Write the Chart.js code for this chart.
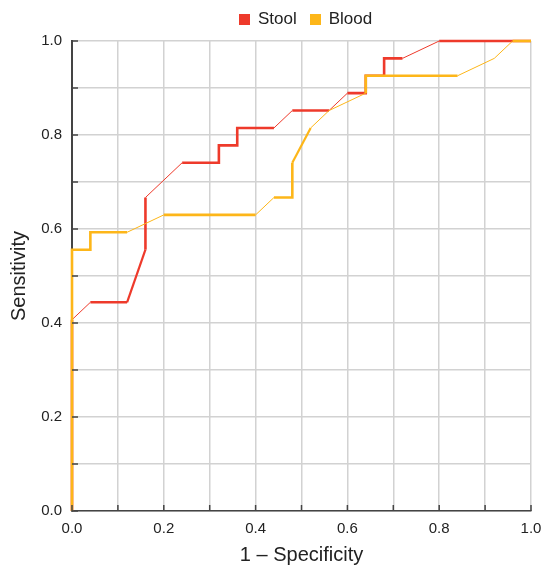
<!DOCTYPE html>
<html>
<head>
<meta charset="utf-8">
<script src="https://cdn.jsdelivr.net/npm/chart.js@4/dist/chart.umd.min.js"></script>
<style>
  html, body { margin: 0; padding: 0; background: #fff; }
  #wrap { position: relative; width: 544px; height: 567px; }
  #legend { position: absolute; top: 9px; left: 239px; height: 20px; display: flex; align-items: center;
            font-family: "Liberation Sans", Arial, sans-serif; font-size: 17px; color: #222; }
  .item { display: flex; align-items: center; margin-right: 13px; }
  .sw { width: 11px; height: 11px; margin-right: 8px; }
</style>
</head>
<body>
<div id="wrap">
  <canvas id="c" width="544" height="567"></canvas>
  <div id="legend"></div>
</div>
<script>
// ---- data ----
const seriesNames = ['Stool', 'Blood'];
const seriesColors = ['#EE3A2B', '#FDB619'];

const stoolFpr = [0, 0, 0.04, 0.12, 0.16, 0.16, 0.24, 0.32, 0.32, 0.36, 0.36, 0.44, 0.48, 0.56, 0.60, 0.64, 0.64, 0.68, 0.68, 0.72, 0.80, 1.0];
const stoolTpr = [0, 0.407, 0.444, 0.444, 0.556, 0.667, 0.741, 0.741, 0.778, 0.778, 0.815, 0.815, 0.852, 0.852, 0.889, 0.889, 0.926, 0.926, 0.963, 0.963, 1.0, 1.0];

const bloodFpr = [0, 0, 0.04, 0.04, 0.12, 0.20, 0.40, 0.44, 0.48, 0.48, 0.52, 0.56, 0.64, 0.64, 0.84, 0.92, 0.96, 1.0];
const bloodTpr = [0, 0.556, 0.556, 0.593, 0.593, 0.630, 0.630, 0.667, 0.667, 0.741, 0.815, 0.852, 0.889, 0.926, 0.926, 0.963, 1.0, 1.0];

const tickValues = [0, 0.1, 0.2, 0.3, 0.4, 0.5, 0.6, 0.7, 0.8, 0.9, 1.0];
const tickLabels = ['0.0', '', '0.2', '', '0.4', '', '0.6', '', '0.8', '', '1.0'];

const xTitle = '1 \u2013 Specificity';
const yTitle = 'Sensitivity';

// ---- build ----
function pts(xs, ys) { return xs.map((x, i) => ({ x: x, y: ys[i] })); }

function segWidth(ctx) {
  const dx = Math.abs(ctx.p1.x - ctx.p0.x);
  const dy = Math.abs(ctx.p1.y - ctx.p0.y);
  if (dx < 0.5 || dy < 0.5) return 2.6;
  if (dy > 1.5 * dx) return 2.2;
  return 1;
}

const datasets = [
  { label: seriesNames[0], data: pts(stoolFpr, stoolTpr), borderColor: seriesColors[0], backgroundColor: seriesColors[0], order: 1 },
  { label: seriesNames[1], data: pts(bloodFpr, bloodTpr), borderColor: seriesColors[1], backgroundColor: seriesColors[1], order: 0 }
].map(d => Object.assign(d, {
  borderWidth: 2.6, pointRadius: 0, tension: 0, fill: false, clip: 6,
  segment: { borderWidth: segWidth }
}));

const legendEl = document.getElementById('legend');
seriesNames.forEach((n, i) => {
  const it = document.createElement('div'); it.className = 'item';
  const sw = document.createElement('div'); sw.className = 'sw'; sw.style.background = seriesColors[i];
  const tx = document.createElement('span'); tx.textContent = n;
  it.appendChild(sw); it.appendChild(tx); legendEl.appendChild(it);
});

const font = { family: '"Liberation Sans", Arial, sans-serif' };

const innerTicks = {
  id: 'innerTicks',
  afterDatasetsDraw(chart) {
    const c = chart.ctx, a = chart.chartArea;
    c.save();
    c.strokeStyle = '#444';
    c.lineWidth = 1.5;
    const xs = chart.scales.x, ys = chart.scales.y;
    tickValues.forEach(v => {
      const px = xs.getPixelForValue(v);
      c.beginPath(); c.moveTo(px, a.bottom); c.lineTo(px, a.bottom - 6); c.stroke();
      const py = ys.getPixelForValue(v);
      c.beginPath(); c.moveTo(a.left, py); c.lineTo(a.left + 6, py); c.stroke();
    });
    c.restore();
  }
};

function labelFor(v) {
  const i = tickValues.findIndex(t => Math.abs(t - v) < 1e-6);
  return i >= 0 ? tickLabels[i] : '';
}

new Chart(document.getElementById('c'), {
  type: 'line',
  data: { datasets: datasets },
  options: {
    responsive: false,
    animation: false,
    layout: { padding: { top: 41, right: 13, left: 0, bottom: 0 } },
    plugins: { legend: { display: false }, tooltip: { enabled: false } },
    scales: {
      x: {
        type: 'linear', min: 0, max: 1,
        afterBuildTicks: s => { s.ticks = tickValues.map(v => ({ value: v })); },
        afterFit: s => { s.height = 56; s.paddingRight = 0; s.paddingLeft = 0; },
        grid: { color: '#d2d2d2', lineWidth: 1.5, drawTicks: false },
        border: { color: '#444', width: 1.5 },
        ticks: { padding: 9, maxRotation: 0, autoSkip: false, color: '#222', font: Object.assign({ size: 15 }, font), callback: v => labelFor(v) },
        title: { display: true, text: xTitle, color: '#222', padding: { top: 2, bottom: 0 }, font: Object.assign({ size: 20 }, font) }
      },
      y: {
        type: 'linear', min: 0, max: 1,
        afterBuildTicks: s => { s.ticks = tickValues.map(v => ({ value: v })); },
        afterFit: s => { s.width = 72; s.paddingTop = 0; s.paddingBottom = 0; },
        grid: { color: '#d2d2d2', lineWidth: 1.5, drawTicks: false },
        border: { color: '#444', width: 2 },
        ticks: { padding: 10, autoSkip: false, color: '#222', font: Object.assign({ size: 15 }, font), callback: v => labelFor(v) },
        title: { display: true, text: yTitle, color: '#222', padding: { top: 7, bottom: 2 }, font: Object.assign({ size: 20 }, font) }
      }
    }
  },
  plugins: [innerTicks]
});
</script>
</body>
</html>
